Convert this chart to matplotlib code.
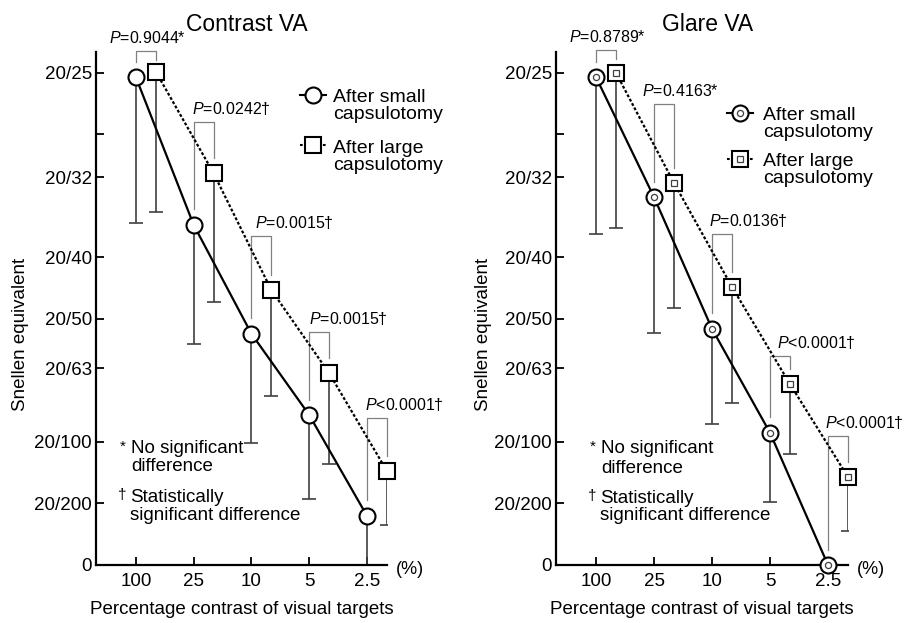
import matplotlib
matplotlib.use('Agg')
import matplotlib.pyplot as plt

plt.rcParams['font.family'] = ['Liberation Sans', 'DejaVu Sans']
plt.rcParams['mathtext.fontset'] = 'custom'
plt.rcParams['mathtext.rm'] = 'Liberation Sans'
plt.rcParams['mathtext.it'] = 'Liberation Sans:italic'

# x categories (percentage contrast)
CONTRAST = ['100', '25', '10', '5', '2.5']

# y axis: decimal VA, labelled as Snellen equivalents
SNELLEN_POS = [0, 0.1, 0.2, 0.32, 0.4, 0.5, 0.63, 0.7, 0.8]
SNELLEN_LAB = ['0', '20/200', '20/100', '20/63', '20/50', '20/40', '20/32', '', '20/25']

# Contrast VA (mean and lower end of error bar, decimal VA)
cva_small = [0.793, 0.553, 0.376, 0.244, 0.080]
cva_small_low = [0.556, 0.359, 0.198, 0.107, 0.0]
cva_large = [0.802, 0.637, 0.447, 0.312, 0.153]
cva_large_low = [0.574, 0.428, 0.275, 0.164, 0.065]
cva_p = ['=0.9044*', '=0.0242\u2020', '=0.0015\u2020', '=0.0015\u2020', '<0.0001\u2020']

# Glare VA
gva_small = [0.793, 0.598, 0.384, 0.215, 0.0]
gva_small_low = [0.538, 0.377, 0.229, 0.102, 0.0]
gva_large = [0.800, 0.621, 0.452, 0.294, 0.143]
gva_large_low = [0.548, 0.418, 0.263, 0.180, 0.055]
gva_p = ['=0.8789*', '=0.4163*', '=0.0136\u2020', '<0.0001\u2020', '<0.0001\u2020']

# annotation layout: bracket top heights and label left edges (data units)
cva_brk = [0.836, 0.720, 0.535, 0.379, 0.239]
cva_lab_x = [-0.47, 0.97, 2.06, 3.0, 3.96]
gva_brk = [0.837, 0.750, 0.538, 0.340, 0.210]
gva_lab_x = [-0.47, 0.79, 1.95, 3.12, 3.94]

OFFSET = 0.345   # horizontal shift of the large-capsulotomy series
MS = 11.5
DOTTED = (0, (1.3, 0.9))


def marker(ax, x, y, kind, double, **kw):
    ax.plot(x, y, kind, ms=MS, mfc='white', mec='k', mew=1.5, ls='none', zorder=5, **kw)
    if double:
        ax.plot(x, y, kind, ms=4.4, mfc='white', mec='0.25', mew=0.9, ls='none', zorder=6, **kw)


def draw_panel(ax, title, small, small_low, large, large_low, pvals, brk, lab_x,
               double, legend, notes, ylab_x):
    xs = list(range(len(CONTRAST)))
    xl = [x + OFFSET for x in xs]

    ax.errorbar(xs, small, yerr=[[s - l for s, l in zip(small, small_low)], [0] * len(xs)],
                fmt='none', ecolor='0.25', elinewidth=1.2, capsize=5, capthick=1.2, zorder=2)
    ax.errorbar(xl, large, yerr=[[s - l for s, l in zip(large, large_low)], [0] * len(xs)],
                fmt='none', ecolor='0.25', elinewidth=1.2, capsize=5, capthick=1.2, zorder=2)
    ax.plot(xs, small, color='k', lw=1.6, zorder=3, clip_on=False)
    ax.plot(xl, large, color='k', lw=1.6, ls=DOTTED, zorder=3, clip_on=False)
    marker(ax, xs, small, 'o', double, clip_on=False)
    marker(ax, xl, large, 's', double, clip_on=False)

    # significance brackets
    for i in xs:
        top = brk[i]
        y1 = min(top - 0.015, small[i] + 0.025)
        y2 = min(top - 0.015, large[i] + 0.025)
        ax.plot([i, i, xl[i], xl[i]], [y1, top, top, y2], color='0.5', lw=0.9,
                zorder=1, clip_on=False)
        ax.text(lab_x[i], top + 0.008, r'$P$' + pvals[i], fontsize=11.5,
                ha='left', va='bottom', clip_on=False)

    ax.set_xlim(-0.69, 4.345)
    ax.set_ylim(0, 0.834)
    ax.set_xticks(xs)
    ax.set_xticklabels(CONTRAST)
    ax.set_yticks(SNELLEN_POS)
    ax.set_yticklabels(SNELLEN_LAB)
    ax.tick_params(direction='in', length=6, width=1.3, labelsize=13.5, pad=3)
    ax.tick_params(axis='x', pad=6)
    for side in ('top', 'right'):
        ax.spines[side].set_visible(False)
    for side in ('left', 'bottom'):
        ax.spines[side].set_linewidth(1.6)
    ax.set_title(title, fontsize=16.5, x=0.52, pad=15)
    ax.set_xlabel('Percentage contrast of visual targets', fontsize=13.5, labelpad=8)
    ax.set_ylabel('Snellen equivalent', fontsize=13.5)
    ax.yaxis.set_label_coords(ylab_x, 0.45)
    ax.text(1.08, -0.008, '(%)', transform=ax.transAxes, fontsize=13,
            ha='center', va='center')

    # legend drawn by hand
    (lx0, lx1, ltx), entries = legend
    for kind, ls, my, t1, t2 in entries:
        ax.plot([lx0, lx1], [my, my], color='k', lw=1.5, ls=ls,
                transform=ax.transAxes, clip_on=False)
        ax.plot([(lx0 + lx1) / 2], [my], kind, ms=MS, mfc='white', mec='k', mew=1.5,
                transform=ax.transAxes, clip_on=False)
        if double:
            ax.plot([(lx0 + lx1) / 2], [my], kind, ms=4.4, mfc='white', mec='0.25',
                    mew=0.9, transform=ax.transAxes, clip_on=False)
        ax.text(ltx, t1[0], t1[1], transform=ax.transAxes, fontsize=14,
                va='baseline', clip_on=False)
        ax.text(ltx, t2[0], t2[1], transform=ax.transAxes, fontsize=14,
                va='baseline', clip_on=False)

    # footnotes
    (ax_x, ay, tx, y1, y2), (dx, dy, tx2, y3, y4) = notes
    ax.text(ax_x, ay, '*', transform=ax.transAxes, fontsize=11, va='baseline')
    ax.text(tx, y1, 'No significant', transform=ax.transAxes, fontsize=13.5, va='baseline')
    ax.text(tx, y2, 'difference', transform=ax.transAxes, fontsize=13.5, va='baseline')
    ax.text(dx, dy, '\u2020', transform=ax.transAxes, fontsize=11, va='baseline')
    ax.text(tx2, y3, 'Statistically', transform=ax.transAxes, fontsize=13.5, va='baseline')
    ax.text(tx2, y4, 'significant difference', transform=ax.transAxes, fontsize=13.5,
            va='baseline')


fig = plt.figure(figsize=(9.06, 6.23), dpi=100)
ax1 = fig.add_axes([0.106, 0.0931, 0.321, 0.8234])
ax2 = fig.add_axes([0.6137, 0.0931, 0.3223, 0.8234])

draw_panel(ax1, 'Contrast VA', cva_small, cva_small_low, cva_large, cva_large_low,
           cva_p, cva_brk, cva_lab_x, double=False,
           legend=((0.70, 0.79, 0.814),
                   [('o', '-', 0.916, (0.9025, 'After small'), (0.869, 'capsulotomy')),
                    ('s', DOTTED, 0.819, (0.803, 'After large'), (0.770, 'capsulotomy'))]),
           notes=((0.082, 0.222, 0.12, 0.218, 0.183), (0.076, 0.128, 0.117, 0.123, 0.088)),
           ylab_x=-0.23)

draw_panel(ax2, 'Glare VA', gva_small, gva_small_low, gva_large, gva_large_low,
           gva_p, gva_brk, gva_lab_x, double=True,
           legend=((0.586, 0.675, 0.709),
                   [('o', '-', 0.881, (0.867, 'After small'), (0.834, 'capsulotomy')),
                    ('s', DOTTED, 0.791, (0.778, 'After large'), (0.745, 'capsulotomy'))]),
           notes=((0.116, 0.222, 0.154, 0.218, 0.179), (0.11, 0.126, 0.151, 0.121, 0.088)),
           ylab_x=-0.219)

fig.savefig('out.png', dpi=100)
